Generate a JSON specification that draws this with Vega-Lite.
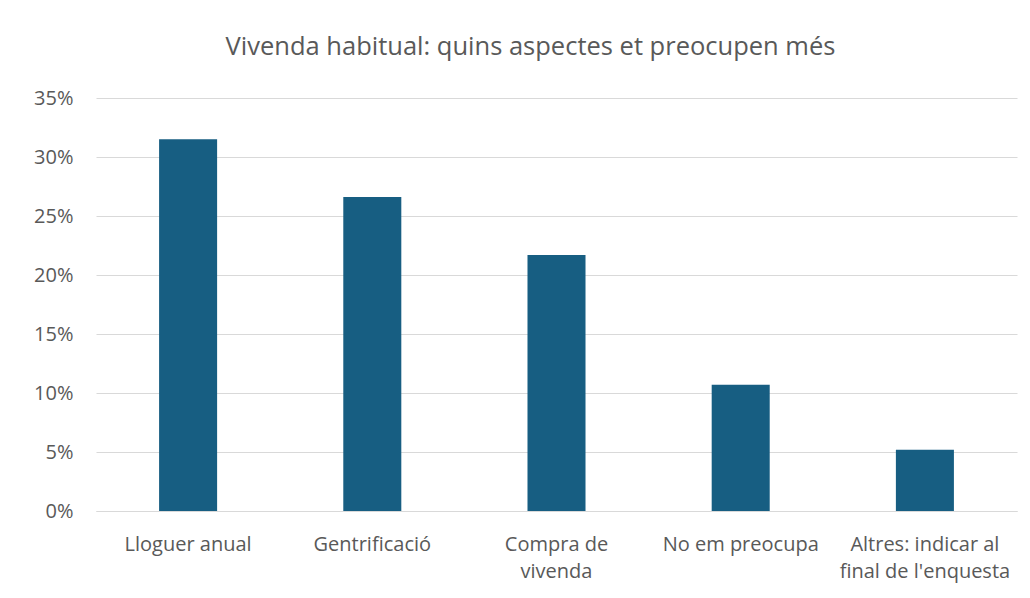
{
  "$schema": "https://vega.github.io/schema/vega-lite/v6.json",
  "width": 921,
  "height": 413,
  "autosize": "none",
  "padding": {"left": 96, "top": 98, "right": 13, "bottom": 87},
  "background": "white",
  "title": {
    "text": "Vivenda habitual: quins aspectes et preocupen més",
    "font": "Open Sans",
    "fontSize": 25.5,
    "fontWeight": "normal",
    "color": "#595959",
    "anchor": "middle",
    "dx": -26,
    "offset": 28
  },
  "config": {
    "view": {"stroke": null},
    "axis": {
      "labelFont": "Open Sans",
      "labelFontSize": 20,
      "labelColor": "#595959",
      "ticks": false,
      "title": null
    }
  },
  "data": {
    "values": [
      {"cat": "Lloguer anual", "value": 0.315},
      {"cat": "Gentrificació", "value": 0.266},
      {"cat": "Compra de vivenda", "value": 0.217},
      {"cat": "No em preocupa", "value": 0.107},
      {"cat": "Altres: indicar al final de l'enquesta", "value": 0.052}
    ]
  },
  "mark": {"type": "bar", "color": "#175e82"},
  "encoding": {
    "x": {
      "field": "cat",
      "type": "nominal",
      "sort": null,
      "scale": {"paddingInner": 0.685, "paddingOuter": 0.3425},
      "axis": {
        "labelAngle": 0,
        "labelPadding": 39,
        "labelLineHeight": 27,
        "labelBaseline": "alphabetic",
        "labelLimit": 300,
        "domainColor": "#d9d9d9",
        "domainWidth": 1,
        "labelExpr": "datum.label == 'Compra de vivenda' ? ['Compra de', 'vivenda'] : datum.label == \"Altres: indicar al final de l'enquesta\" ? ['Altres: indicar al', \"final de l'enquesta\"] : datum.label"
      }
    },
    "y": {
      "field": "value",
      "type": "quantitative",
      "scale": {"domain": [0, 0.35]},
      "axis": {
        "format": ".0%",
        "values": [0, 0.05, 0.1, 0.15, 0.2, 0.25, 0.3, 0.35],
        "domain": false,
        "gridColor": "#d9d9d9",
        "gridWidth": 1,
        "labelPadding": 23
      }
    }
  }
}
